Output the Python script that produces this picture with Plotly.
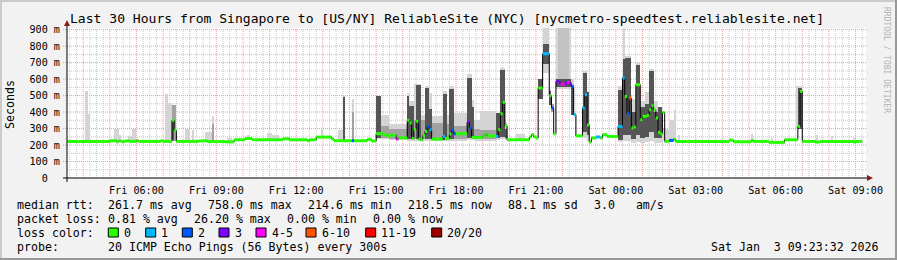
import plotly.graph_objects as go
import pandas as pd

DAY = {"Fri": "2026-01-02", "Sat": "2026-01-03"}


def ts(s):
    d, hm = s.split(" ", 1)
    return pd.Timestamp(f"{DAY[d]} {hm}")


WINDOW_START = "Fri 03:23:32"
WINDOW_END = "Sat 09:23:32"

TITLE = "Last 30 Hours from Singapore to [US/NY] ReliableSite (NYC) [nycmetro-speedtest.reliablesite.net]"

# ---- median rtt (step series): start time of each step, ms, lost pings of 20
median_time = [
    "Fri 03:25", "Fri 05:00", "Fri 05:15", "Fri 05:20", "Fri 05:25", "Fri 05:35", "Fri 05:45", "Fri 06:00",
    "Fri 06:05", "Fri 06:55", "Fri 07:00", "Fri 07:20", "Fri 07:25", "Fri 07:30", "Fri 08:20", "Fri 08:40",
    "Fri 09:20", "Fri 09:40", "Fri 10:05", "Fri 10:20", "Fri 11:30", "Fri 11:45", "Fri 12:25", "Fri 12:30",
    "Fri 12:45", "Fri 13:20", "Fri 13:25", "Fri 14:05", "Fri 14:10", "Fri 14:40", "Fri 14:50", "Fri 15:00",
    "Fri 15:15", "Fri 15:25", "Fri 15:35", "Fri 15:45", "Fri 15:50", "Fri 16:10", "Fri 16:15", "Fri 16:20",
    "Fri 16:25", "Fri 16:30", "Fri 16:35", "Fri 16:40", "Fri 16:45", "Fri 16:50", "Fri 16:55", "Fri 17:00",
    "Fri 17:05", "Fri 17:30", "Fri 17:35", "Fri 17:45", "Fri 17:50", "Fri 17:55", "Fri 18:00", "Fri 18:25",
    "Fri 18:30", "Fri 18:35", "Fri 19:00", "Fri 19:05", "Fri 19:10", "Fri 19:30", "Fri 19:35", "Fri 19:40",
    "Fri 19:45", "Fri 19:50", "Fri 19:55", "Fri 20:45", "Fri 20:50", "Fri 20:55", "Fri 21:00", "Fri 21:05",
    "Fri 21:15", "Fri 21:30", "Fri 21:35", "Fri 21:40", "Fri 21:45", "Fri 21:50", "Fri 21:55", "Fri 22:00",
    "Fri 22:05", "Fri 22:10", "Fri 22:15", "Fri 22:20", "Fri 22:25", "Fri 22:30", "Fri 22:45", "Fri 22:50",
    "Fri 22:55", "Fri 23:00", "Fri 23:05", "Fri 23:15", "Fri 23:25", "Fri 23:30", "Fri 23:40", "Sat 00:05",
    "Sat 00:15", "Sat 00:20", "Sat 00:25", "Sat 00:30", "Sat 00:35", "Sat 00:40", "Sat 00:45", "Sat 00:55",
    "Sat 01:00", "Sat 01:10", "Sat 01:15", "Sat 01:20", "Sat 01:25", "Sat 01:30", "Sat 01:35", "Sat 01:40",
    "Sat 01:45", "Sat 01:50", "Sat 02:00", "Sat 02:10", "Sat 02:15", "Sat 04:15", "Sat 04:25", "Sat 05:05",
    "Sat 05:10", "Sat 05:45", "Sat 06:20", "Sat 06:50", "Sat 06:55", "Sat 07:00", "Sat 07:30", "Sat 07:40",
    "Sat 08:55", "Sat 09:00", "Sat 09:15",
]
median_ms = [
    222, 226, 220, 226, 221, 225, 222, 226,
    222, 226, 222, 350, 289, 222, 225, 221,
    219, 232, 240, 232, 238, 232, 226, 232,
    248, 236, 226, 226, 226, 234, 224, 269,
    262, 257, 260, 236, 243, 350, 334, 240,
    293, 344, 236, 232, 259, 283, 313, 293,
    236, 252, 240, 267, 289, 269, 269, 339,
    303, 246, 255, 267, 255, 252, 293, 390,
    459, 317, 232, 249, 263, 249, 243, 546,
    754, 499, 425, 268, 587, 582, 570, 568,
    576, 580, 572, 556, 384, 256, 425, 505,
    322, 218, 243, 249, 243, 263, 252, 313,
    607, 495, 390, 485, 303, 310, 566, 354,
    374, 380, 414, 438, 414, 364, 277, 268,
    398, 222, 228, 235, 222, 230, 220, 228,
    222, 216, 232, 313, 525, 222, 218, 222,
    218, 222, 222,
]
median_lost = [
    0, 0, 0, 0, 0, 0, 0, 0,
    0, 0, 0, 0, 0, 0, 0, 0,
    0, 0, 0, 0, 0, 0, 0, 0,
    0, 0, 0, 2, 0, 0, 0, 0,
    0, 0, 0, 4, 0, 0, 0, 0,
    0, 0, 0, 0, 0, 0, 2, 1,
    0, 1, 0, 0, 2, 2, 0, 3,
    2, 0, 0, 0, 0, 1, 0, 0,
    0, 0, 0, 0, 0, 0, 0, 0,
    1, 0, 2, 0, 3, 3, 4, 4,
    3, 4, 3, 2, 1, 0, 1, 1,
    0, 0, 0, 1, 0, 0, 0, 1,
    1, 0, 2, 7, 0, 0, 0, 0,
    0, 0, 0, 0, 0, 0, 0, 0,
    0, 0, 2, 0, 0, 0, 0, 0,
    0, 0, 0, 0, 0, 0, 0, 0,
    0, 0, 0,
]

# ---- smoke (spread of the 20 pings): time span, lowest/highest ms, shade
smoke_from = [
    "Fri 04:05", "Fri 04:10", "Fri 05:10", "Fri 05:20", "Fri 05:40", "Fri 05:50", "Fri 07:05", "Fri 07:10",
    "Fri 07:50", "Fri 08:05", "Fri 08:35", "Fri 08:50", "Fri 09:25", "Fri 10:10", "Fri 10:55", "Fri 11:05",
    "Fri 12:55", "Fri 13:35", "Fri 13:45", "Fri 14:05", "Fri 15:00", "Fri 15:10", "Fri 15:30", "Fri 16:10",
    "Fri 16:15", "Fri 16:25", "Fri 16:40", "Fri 16:50", "Fri 17:00", "Fri 17:05", "Fri 17:30", "Fri 17:40",
    "Fri 17:45", "Fri 17:55", "Fri 18:25", "Fri 18:35", "Fri 18:40", "Fri 18:55", "Fri 19:30", "Fri 19:40",
    "Fri 19:50", "Fri 20:15", "Fri 21:15", "Fri 21:30", "Fri 21:45", "Fri 22:20", "Fri 22:45", "Fri 22:55",
    "Sat 00:05", "Sat 00:15", "Sat 00:20", "Sat 00:35", "Sat 00:45", "Sat 00:55", "Sat 01:05", "Sat 01:15",
    "Sat 01:25", "Sat 01:35", "Sat 01:45", "Sat 02:00", "Sat 02:10", "Sat 02:20", "Sat 05:05", "Sat 05:50",
    "Sat 06:45", "Sat 07:30", "Sat 08:05", "Sat 08:55",
    "Fri 21:50",
    "Fri 07:20", "Fri 08:50", "Fri 14:05", "Fri 15:10", "Fri 15:30", "Fri 16:25", "Fri 16:40", "Fri 17:05",
    "Fri 17:40", "Fri 17:55", "Fri 18:40", "Fri 18:55", "Fri 21:35",
    "Fri 07:20", "Fri 13:45", "Fri 15:00", "Fri 16:10", "Fri 16:15", "Fri 16:30", "Fri 16:50", "Fri 17:00",
    "Fri 17:30", "Fri 17:45", "Fri 18:25", "Fri 18:35", "Fri 19:30", "Fri 19:40", "Fri 19:50", "Fri 21:05",
    "Fri 21:15", "Fri 21:30", "Fri 21:45", "Fri 22:20", "Fri 22:45", "Fri 22:55", "Sat 00:05", "Sat 00:15",
    "Sat 00:20", "Sat 00:35", "Sat 00:45", "Sat 00:55", "Sat 01:05", "Sat 01:15", "Sat 01:25", "Sat 01:35",
    "Sat 06:50",
]
smoke_to = [
    "Fri 04:10", "Fri 04:15", "Fri 05:20", "Fri 05:25", "Fri 05:50", "Fri 06:00", "Fri 07:10", "Fri 07:20",
    "Fri 08:00", "Fri 08:10", "Fri 08:50", "Fri 08:55", "Fri 09:35", "Fri 10:15", "Fri 11:05", "Fri 11:20",
    "Fri 13:00", "Fri 13:45", "Fri 13:50", "Fri 14:10", "Fri 15:10", "Fri 15:30", "Fri 16:10", "Fri 16:15",
    "Fri 16:25", "Fri 16:40", "Fri 16:50", "Fri 17:00", "Fri 17:05", "Fri 17:30", "Fri 17:40", "Fri 17:45",
    "Fri 17:55", "Fri 18:25", "Fri 18:35", "Fri 18:40", "Fri 18:55", "Fri 19:30", "Fri 19:40", "Fri 19:50",
    "Fri 19:55", "Fri 20:35", "Fri 21:30", "Fri 21:35", "Fri 22:20", "Fri 22:25", "Fri 22:55", "Fri 23:00",
    "Sat 00:15", "Sat 00:20", "Sat 00:35", "Sat 00:45", "Sat 00:55", "Sat 01:05", "Sat 01:15", "Sat 01:25",
    "Sat 01:35", "Sat 01:45", "Sat 02:00", "Sat 02:10", "Sat 02:15", "Sat 02:25", "Sat 05:10", "Sat 05:55",
    "Sat 07:00", "Sat 07:35", "Sat 08:10", "Sat 09:00",
    "Fri 22:15",
    "Fri 07:30", "Fri 08:55", "Fri 14:10", "Fri 15:30", "Fri 16:10", "Fri 16:30", "Fri 16:50", "Fri 17:30",
    "Fri 17:45", "Fri 18:25", "Fri 18:55", "Fri 19:30", "Fri 21:40",
    "Fri 07:25", "Fri 13:50", "Fri 15:10", "Fri 16:15", "Fri 16:25", "Fri 16:40", "Fri 17:00", "Fri 17:05",
    "Fri 17:40", "Fri 17:55", "Fri 18:35", "Fri 18:40", "Fri 19:40", "Fri 19:50", "Fri 19:55", "Fri 21:15",
    "Fri 21:30", "Fri 21:35", "Fri 22:20", "Fri 22:25", "Fri 22:55", "Fri 23:00", "Sat 00:15", "Sat 00:20",
    "Sat 00:35", "Sat 00:45", "Sat 00:55", "Sat 01:05", "Sat 01:15", "Sat 01:25", "Sat 01:35", "Sat 01:45",
    "Sat 07:00",
]
smoke_lo = [
    222, 222, 222, 222, 222, 222, 222, 222,
    222, 222, 222, 222, 222, 232, 232, 232,
    240, 226, 226, 226, 235, 235, 230, 225,
    225, 225, 225, 225, 225, 225, 225, 225,
    225, 225, 230, 230, 225, 225, 230, 235,
    230, 232, 640, 440, 540, 380, 240, 225,
    220, 225, 225, 215, 220, 215, 220, 225,
    215, 215, 222, 222, 222, 222, 222, 216,
    300, 222, 222, 218,
    600,
    225, 222, 226, 240, 235, 235, 235, 230,
    230, 235, 235, 235, 400,
    230, 226, 240, 235, 235, 235, 235, 235,
    230, 235, 240, 240, 240, 250, 240, 480,
    690, 440, 555, 380, 280, 260, 232, 260,
    260, 235, 260, 240, 250, 280, 240, 240,
    300,
]
smoke_hi = [
    530, 390, 297, 262, 252, 300, 511, 455,
    298, 292, 277, 378, 240, 258, 275, 258,
    297, 290, 500, 479, 500, 385, 330, 516,
    470, 572, 380, 556, 516, 374, 525, 380,
    556, 394, 630, 475, 354, 404, 394, 670,
    340, 265, 930, 540, 930, 600, 650, 530,
    560, 930, 740, 480, 700, 470, 520, 660,
    470, 430, 300, 354, 410, 262, 269, 243,
    556, 258, 252, 240,
    930,
    445, 330, 400, 313, 300, 354, 354, 334,
    330, 313, 300, 293, 450,
    360, 491, 495, 495, 434, 566, 546, 420,
    511, 540, 607, 430, 394, 657, 300, 600,
    810, 530, 600, 560, 637, 520, 536, 720,
    728, 400, 688, 430, 450, 647, 400, 430,
    545,
]
smoke_shade = (["light"] * 68 + ["pale"] * 1 + ["mid"] * 13 + ["dark"] * 33)

# ---- legend values
LOSS_BINS = [  # (min lost, max lost, label, colour)
    (0, 0, "0", "#26ff00"),
    (1, 1, "1", "#00b8ff"),
    (2, 2, "2", "#0059ff"),
    (3, 3, "3", "#7e00ff"),
    (4, 5, "4-5", "#ff00ff"),
    (6, 10, "6-10", "#ff5500"),
    (11, 19, "11-19", "#ff0000"),
    (20, 20, "20/20", "#a10000"),
]
rtt_stats = ["261.7 ms avg", "758.0 ms max", "214.6 ms min", "218.5 ms now", "88.1 ms sd", "3.0\u00a0\u00a0\u00a0am/s"]
loss_stats = ["0.81 % avg", "26.20 % max", "0.00 % min", "0.00 % now"]
probe_text = "20 ICMP Echo Pings (56 Bytes) every 300s"
stamp_text = "Sat Jan\u00a0\u00a03 09:23:32 2026"
y_ticks = [0, 100, 200, 300, 400, 500, 600, 700, 800, 900]
y_labels = ["0\u00a0\u00a0", "100 m", "200 m", "300 m", "400 m", "500 m", "600 m", "700 m", "800 m", "900 m"]

# ---------------------------------------------------------------- layout geometry
W, H = 897, 260
L, R, T, B = 67, 31, 28, 82
PW, PH = W - L - R, H - T - B
Y_MAX = 910
MONO = "DejaVu Sans Mono"


def px_x(px):
    return (px - L) / PW


def px_y(py):
    return (T + PH - py) / PH


fig = go.Figure()

shade_color = {"light": "#d4d4d4", "pale": "#c2c2c2", "mid": "#a2a2a2", "dark": "#555555"}
for shade in ["light", "pale", "mid", "dark"]:
    idx = [i for i, s in enumerate(smoke_shade) if s == shade]
    t0 = [ts(smoke_from[i]) for i in idx]
    t1 = [ts(smoke_to[i]) for i in idx]
    fig.add_trace(go.Bar(
        x=[a + (b - a) / 2 for a, b in zip(t0, t1)],
        y=[smoke_hi[i] - smoke_lo[i] for i in idx],
        base=[smoke_lo[i] for i in idx],
        width=[(b - a).total_seconds() * 1000 for a, b in zip(t0, t1)],
        marker=dict(color=shade_color[shade], line=dict(width=0)),
        hoverinfo="skip", showlegend=False,
    ))

mt = [ts(s) for s in median_time]
fig.add_trace(go.Scatter(x=mt, y=median_ms, mode="lines",
                         line=dict(color="#000000", width=1, shape="hv"),
                         hoverinfo="skip", showlegend=False))
for lo_, hi_, label, color in LOSS_BINS:
    xs, ys = [], []
    for i in range(len(mt) - 1):
        if lo_ <= median_lost[i] <= hi_:
            xs += [mt[i], mt[i + 1], None]
            ys += [median_ms[i], median_ms[i], None]
    if xs:
        fig.add_trace(go.Scatter(x=xs, y=ys, mode="lines", line=dict(color=color, width=3),
                                 hoverinfo="skip", showlegend=False, connectgaps=False))

shapes = []
# vertical grid
t = pd.Timestamp("2026-01-02 03:30")
end = ts(WINDOW_END)
while t < end:
    major = t.minute == 0
    shapes.append(dict(type="line", xref="x", yref="paper", x0=t, x1=t, y0=0, y1=1, layer="below",
                       line=dict(color="#f29a9a" if major else "#c8c8c8", width=1, dash="1px,1px")))
    t += pd.Timedelta(minutes=15)
# horizontal grid
for v in range(50, 901, 50):
    major = v % 100 == 0
    shapes.append(dict(type="line", xref="paper", yref="y", x0=px_x(63) if major else 0, x1=1, y0=v, y1=v,
                       layer="below",
                       line=dict(color="#f29a9a" if major else "#c8c8c8", width=1, dash="1px,1px")))
# axes lines and arrows
shapes.append(dict(type="line", xref="paper", yref="paper", x0=px_x(63), x1=px_x(868), y0=0, y1=0,
                   line=dict(color="#000000", width=1)))
shapes.append(dict(type="line", xref="paper", yref="paper", x0=0, x1=0, y0=px_y(182), y1=px_y(24),
                   line=dict(color="#000000", width=1)))
shapes.append(dict(type="path", xref="paper", yref="paper",
                   path=f"M {px_x(873)},{px_y(178)} L {px_x(867)},{px_y(175)} L {px_x(867)},{px_y(181)} Z",
                   fillcolor="#8b1a1a", line=dict(width=0)))
shapes.append(dict(type="path", xref="paper", yref="paper",
                   path=f"M {px_x(67)},{px_y(20)} L {px_x(64)},{px_y(26)} L {px_x(70)},{px_y(26)} Z",
                   fillcolor="#8b1a1a", line=dict(width=0)))
# outer 3d frame
shapes.append(dict(type="line", xref="paper", yref="paper", x0=px_x(0), x1=px_x(W), y0=px_y(1), y1=px_y(1),
                   line=dict(color="#cbcbcb", width=2)))
shapes.append(dict(type="line", xref="paper", yref="paper", x0=px_x(1), x1=px_x(1), y0=px_y(0), y1=px_y(H),
                   line=dict(color="#cbcbcb", width=2)))
shapes.append(dict(type="line", xref="paper", yref="paper", x0=px_x(0), x1=px_x(W), y0=px_y(H - 1), y1=px_y(H - 1),
                   line=dict(color="#999999", width=2)))
shapes.append(dict(type="line", xref="paper", yref="paper", x0=px_x(W - 1), x1=px_x(W - 1), y0=px_y(0), y1=px_y(H),
                   line=dict(color="#999999", width=2)))

annotations = []


def text(px, py, s, size=11.6, anchor="left", color="#000000", angle=0):
    annotations.append(dict(x=px_x(px), y=px_y(py), xref="paper", yref="paper", text=s, showarrow=False,
                            xanchor=anchor, yanchor="middle", textangle=angle,
                            font=dict(family=MONO, size=size, color=color), borderpad=0))


text(446.5, 19, TITLE, size=13.05, anchor="center")
text(10, 105, "Seconds", size=11.6, anchor="center", angle=-90)
text(887, 60, "RRDTOOL / TOBI OETIKER", size=8, anchor="center", color="#b4b4b4", angle=90)

ROW = [204.8, 218.9, 233.0, 247.0]
text(16, ROW[0], "median rtt:")
for x0, s in zip([107, 207, 307, 407, 507, 593], rtt_stats):
    text(x0, ROW[0], s.replace(" ", "\u00a0"))
text(16, ROW[1], "packet loss:")
for x0, s in zip([107, 193, 286, 372], loss_stats):
    text(x0, ROW[1], s.replace(" ", "\u00a0"))
text(16, ROW[2], "loss color:")
for bx, (lo_, hi_, label, color) in zip([108.3, 145.7, 182.3, 219, 256, 306, 365.7, 431.7], LOSS_BINS):
    shapes.append(dict(type="rect", xref="paper", yref="paper", x0=px_x(bx), x1=px_x(bx + 10),
                       y0=px_y(ROW[2] + 4), y1=px_y(ROW[2] - 5), fillcolor=color,
                       line=dict(color="#000000", width=1)))
    text(bx + 14.5, ROW[2], label)
text(16, ROW[3], "probe:")
text(107, ROW[3], probe_text)
text(880, ROW[3], stamp_text, anchor="right")

fig.update_layout(
    width=W, height=H, autosize=False,
    margin=dict(l=L, r=R, t=T, b=B, pad=0),
    paper_bgcolor="#f2f2f2", plot_bgcolor="#ffffff",
    barmode="overlay", bargap=0,
    shapes=shapes, annotations=annotations,
    font=dict(family=MONO, color="#000000"),
    xaxis=dict(type="date", range=[ts(WINDOW_START), ts(WINDOW_END)],
               tickmode="linear", tick0="2026-01-02 00:00", dtick=3 * 3600 * 1000,
               tickformat="%a %H:%M", showgrid=False, zeroline=False, showline=False,
               ticks="outside", ticklen=3, tickcolor="rgba(0,0,0,0)",
               tickfont=dict(family=MONO, size=10.15, color="#000000"), fixedrange=True),
    yaxis=dict(range=[0, Y_MAX], tickmode="array", tickvals=y_ticks, ticktext=y_labels,
               showgrid=False, zeroline=False, showline=False, ticks="outside", ticklen=4,
               tickcolor="rgba(0,0,0,0)",
               tickfont=dict(family=MONO, size=10.15, color="#000000"), fixedrange=True),
)

fig.write_html("out.html", config={"displayModeBar": False})
